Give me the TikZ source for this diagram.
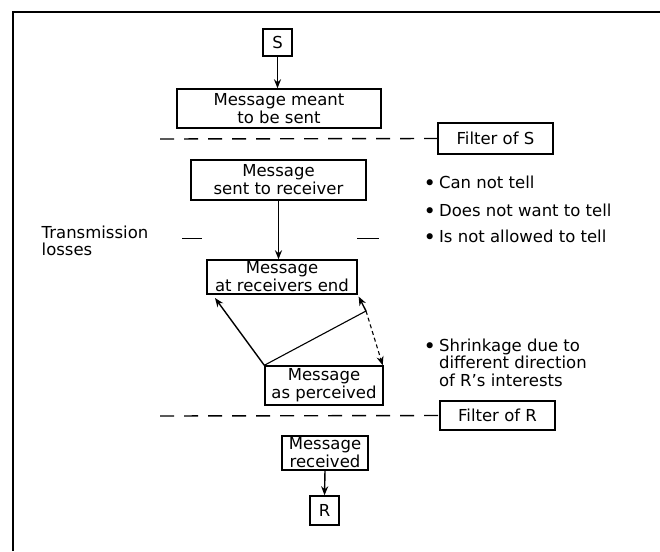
\documentclass[tikz,border=0pt]{standalone}
\usepackage{fontspec}
\setmainfont{DejaVu Sans}
\usetikzlibrary{arrows.meta}
\newcommand{\bigbul}{\raisebox{-2pt}{\fontsize{21}{18}\selectfont\textbullet}\hspace{3pt}}

\begin{document}
\begin{tikzpicture}[x=1pt, y=-1pt, line width=1.4pt,
	box/.style={draw, inner sep=0pt, align=center, font=\fontsize{16.5}{18}\selectfont},
	note/.style={anchor=base west, inner sep=0pt, align=left, font=\fontsize{16.5}{17.5}\selectfont},
	arr/.style={-{Stealth[length=9pt,width=7pt]}},
	filt/.style={dash pattern=on 14pt off 10pt}]
			%%%%% START %%%%%
			
			\useasboundingbox (0,0) rectangle (660,551);
			\draw[line width=1.3pt] (13,551) -- (13,12) -- (660,12);
			
			\node[box, minimum width=29pt, minimum height=27pt] (S) at (277.5,42.5) {S};
			\node[box, minimum width=204pt, minimum height=39pt] (meant) at (279,108.5) {Message meant\\to be sent};
			\draw[arr] (S.south) -- (S.south |- meant.north);
			
			\node[box, minimum width=115pt, minimum height=31pt] (filterS) at (495.5,138.5) {Filter of S};
			\coordinate (filterSend) at (160,139);
			\draw[filt] (filterSend) -- (filterS.west);
			
			\node[box, minimum width=175pt, minimum height=40pt] (sent) at (278.5,180) {Message\\sent to receiver};
			
			\node[note] (cannot) at (423,188) {\bigbul Can not tell};
			\node[note] (doesnot) at (423,216) {\bigbul Does not want to tell};
			\node[note] (notallowed) at (423,242) {\bigbul Is not allowed to tell};
			
			\node[note] (losses) at (41,238) {\begin{tabular}[t]{@{}l@{}}Transmission\\losses\end{tabular}};
			\draw[line width=1pt] (182,238) -- (202,238);
			\draw[line width=1pt] (357,238) -- (379,238);
			
			\node[box, minimum width=150pt, minimum height=34pt] (rcvend) at (282,277) {Message\\at receivers end};
			\draw[arr] (sent.south) -- (sent.south |- rcvend.north);
			
			\node[box, minimum width=118pt, minimum height=39pt] (perceived) at (324,385.5) {Message\\as perceived};
			
			\coordinate (pivot) at (366,311);
			\coordinate (rcvleft) at (215,298);
			\draw[arr] (perceived.north west) -- (rcvleft);
			\draw[line width=1.1pt] (perceived.north west) -- (pivot);
			\draw[arr, shorten >=2pt] (pivot) -- (rcvend.south east);
			\draw[arr, line width=1.1pt, dash pattern=on 4pt off 3pt] (pivot) -- ([xshift=-1pt]perceived.north east);
			
			\node[note] (shrink) at (423,351) {\bigbul\begin{tabular}[t]{@{}l@{}}Shrinkage due to\\different direction\\of R's interests\end{tabular}};
			
			\node[box, minimum width=115pt, minimum height=29pt] (filterR) at (497.5,415.5) {Filter of R};
			\coordinate (filterRend) at (160,416);
			\draw[filt] (filterRend) -- (filterR.west);
			
			\node[box, minimum width=86pt, minimum height=34pt] (received) at (325,453) {Message\\received};
			\node[box, minimum width=29pt, minimum height=29pt] (R) at (324.5,510.5) {R};
			\draw[arr] (received.south) -- (R.north);
			
			%%%%% END %%%%%
\end{tikzpicture}
\end{document}
